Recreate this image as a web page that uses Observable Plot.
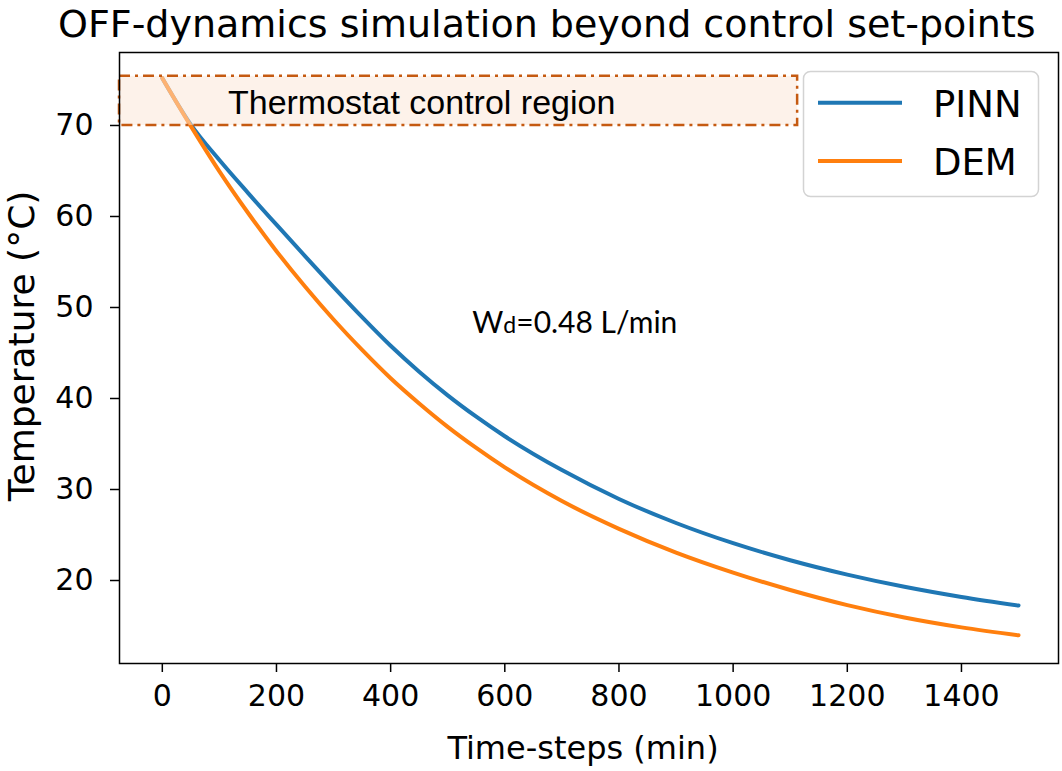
<!DOCTYPE html>
<html><head><meta charset="utf-8">
<script src="https://cdn.jsdelivr.net/npm/d3@7"></script>
<script src="https://cdn.jsdelivr.net/npm/@observablehq/plot@0.6"></script>
<style>
body{margin:0;background:#fff;}
#wrap{position:relative;width:1062px;height:771px;overflow:hidden;background:#fff;}
#title{height:48px;line-height:48px;font-family:"DejaVu Sans";font-size:38px;padding-left:58px;white-space:nowrap;color:#000;}
#legend{position:absolute;left:802px;top:70px;}
</style></head><body>
<div id="wrap"><div id="title">OFF-dynamics simulation beyond control set-points</div><div id="chart"></div><div id="legend"></div></div>
<script>
const seriesNames = ["PINN", "DEM"];
const seriesColors = ["#1f77b4", "#ff7f0e"];
const timeSteps = [0,50,100,150,200,250,300,350,400,450,500,550,600,700,800,900,1000,1100,1200,1300,1400,1500];
const pinnTemp = [75.2,70.1,66.2,62.6,59.1,55.65,52.25,48.95,45.8,42.95,40.35,38.0,35.85,32.13,28.96,26.32,24.10,22.23,20.65,19.31,18.19,17.25];
const demTemp  = [75.2,69.93,64.96,60.41,56.19,52.3,48.68,45.34,42.23,39.46,36.89,34.57,32.43,28.73,25.68,23.07,20.87,18.96,17.30,15.94,14.85,13.98];
const xTicks = [0,200,400,600,800,1000,1200,1400];
const yTicks = [20,30,40,50,60,70];
const regionX = [-75, 1113];
const regionY = [70, 75.4];
const regionLabel = "Thermostat control region";
const noteLabel = "Wd=0.48 L/min";
const xLabel = "Time-steps (min)";
const yLabel = "Temperature (°C)";

const rows = [];
timeSteps.forEach((t,i)=>{ rows.push({series:"PINN", t, v:pinnTemp[i]}); });
timeSteps.forEach((t,i)=>{ rows.push({series:"DEM", t, v:demTemp[i]}); });

const chart = Plot.plot({
  width:1062, height:723,
  marginLeft:119, marginRight:4, marginTop:4, marginBottom:108,
  style:{fontFamily:"DejaVu Sans", fontSize:"30px", background:"white", color:"black", overflow:"visible"},
  x:{domain:[-75,1570]},
  y:{domain:[10.88,78.02]},
  color:{domain:seriesNames, range:seriesColors},
  marks:[
    Plot.line(rows, {x:"t", y:"v", z:"series", stroke:"series", strokeWidth:4, curve:"monotone-x"}),
    Plot.rect([{x1:regionX[0], x2:regionX[1], y1:regionY[0], y2:regionY[1]}], {x1:"x1", x2:"x2", y1:"y1", y2:"y2", fill:"#fbe5d6", fillOpacity:0.5, stroke:"#c55a11", strokeWidth:2.5, strokeDasharray:"11,5,3,5"}),
    Plot.text([regionLabel], {x:()=>115, y:()=>72.45, text:d=>d, textAnchor:"start", lineAnchor:"middle", fontFamily:"Liberation Sans", fontSize:34, fill:"black"}),
    Plot.text([noteLabel], {x:()=>543, y:()=>48.2, text:d=>d, textAnchor:"start", lineAnchor:"middle", fontFamily:"Lato", fontSize:30, fill:"black"}),
    Plot.frame({stroke:"black", strokeWidth:1.5}),
    Plot.axisX({ticks:xTicks, tickFormat:d=>String(d), tickSize:9, tickPadding:12, fontSize:30, strokeWidth:1.5, label:null}),
    Plot.axisY({ticks:yTicks, tickFormat:d=>String(d), tickSize:9, tickPadding:17, fontSize:30, strokeWidth:1.5, label:null}),
    Plot.text([xLabel], {frameAnchor:"bottom", text:d=>d, dy:85, dx:-6, lineAnchor:"middle", fontSize:32, fill:"black"}),
    Plot.text([yLabel], {frameAnchor:"left", text:d=>d, dx:-97, dy:-12, rotate:-90, textAnchor:"middle", lineAnchor:"middle", fontSize:36, fill:"black"})
  ]
});
document.getElementById("chart").appendChild(chart);

d3.select(chart).selectAll("text").each(function(){
  if (this.textContent === noteLabel) {
    this.innerHTML = 'W<tspan font-size="23">d</tspan>=0.48 L/min';
  }
});

// legend
const lg = d3.select("#legend").append("svg").attr("width",240).attr("height",130);
lg.append("rect").attr("x",1.5).attr("y",1.5).attr("width",235).attr("height",125).attr("rx",7)
  .attr("fill","white").attr("fill-opacity",0.8).attr("stroke","#d3d3d3").attr("stroke-width",1.5);
seriesNames.forEach((name,i)=>{
  const y = 32.7 + i*58.3;
  lg.append("line").attr("x1",16).attr("x2",100).attr("y1",y).attr("y2",y)
    .attr("stroke",seriesColors[i]).attr("stroke-width",4);
  lg.append("text").attr("x",131).attr("y",y+14).attr("font-family","DejaVu Sans").attr("font-size",37)
    .attr("fill","black").text(name);
});
</script>
</body></html>
